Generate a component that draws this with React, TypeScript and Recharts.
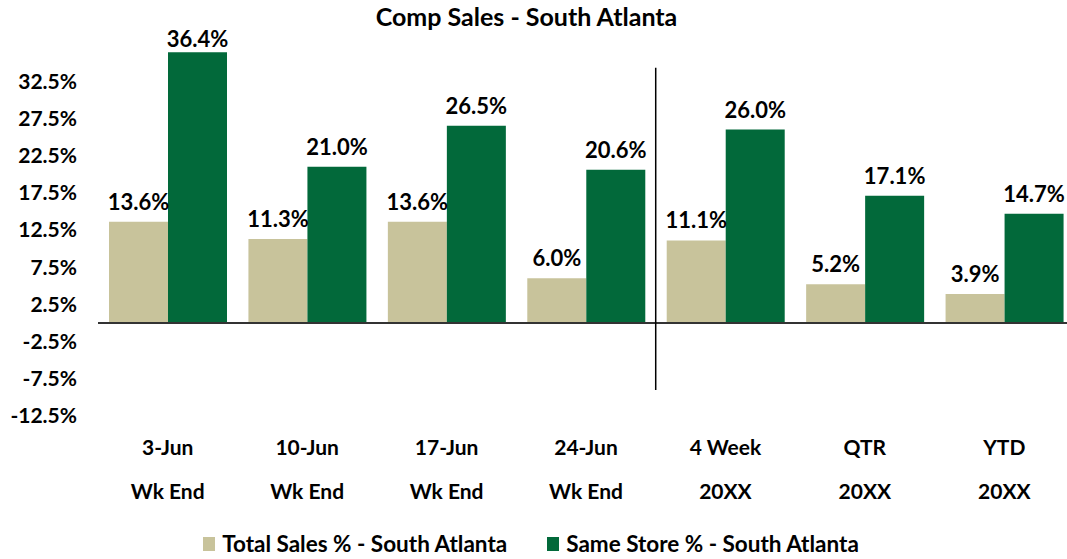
import { BarChart, Bar, XAxis, YAxis, ReferenceLine, LabelList } from "recharts";

const categories = ["3-Jun", "10-Jun", "17-Jun", "24-Jun", "4 Week", "QTR", "YTD"];
const subLabels = ["Wk End", "Wk End", "Wk End", "Wk End", "20XX", "20XX", "20XX"];
const totalSales = [13.6, 11.3, 13.6, 6.0, 11.1, 5.2, 3.9];
const sameStore = [36.4, 21.0, 26.5, 20.6, 26.0, 17.1, 14.7];
const yTicks = [-12.5, -7.5, -2.5, 2.5, 7.5, 12.5, 17.5, 22.5, 27.5, 32.5];

const TAN = "#C8C39B";
const GREEN = "#02693A";
const FONT = "Lato, 'Noto Sans', sans-serif";

const data = categories.map((name, i) => ({
  name,
  sub: subLabels[i],
  total: totalSales[i],
  same: sameStore[i],
}));

function CategoryTick({ x, y, payload, index }: any) {
  return (
    <g>
      <text x={x} y={y + 30} textAnchor="middle" dominantBaseline="central" fontFamily={FONT} fontWeight={700} fontSize={21} fill="#000">
        {payload.value}
      </text>
      <text x={x} y={y + 74} textAnchor="middle" dominantBaseline="central" fontFamily={FONT} fontWeight={700} fontSize={21} fill="#000">
        {subLabels[index]}
      </text>
    </g>
  );
}

function ValueLabel({ x, y, width, value }: any) {
  // keep labels inside the chart area (Excel pushes the tallest one down)
  const ty = Math.max(y - 12, 47);
  return (
    <text x={x + width / 2} y={ty} textAnchor="middle" fontFamily={FONT} fontWeight={700} fontSize={22} fill="#000">
      {Number(value).toFixed(1)}%
    </text>
  );
}

const legendItems = [
  { label: "Total Sales % - South Atlanta", color: TAN },
  { label: "Same Store % - South Atlanta", color: GREEN },
];

export default function App() {
  return (
    <div style={{ position: "absolute", left: 0, top: 0, width: 1067, height: 559, overflow: "hidden", background: "#fff", fontFamily: FONT }}>
      <div style={{ position: "absolute", top: 1, left: 0, width: 1053, textAlign: "center", fontSize: 25, fontWeight: 700, color: "#000", lineHeight: "30px" }}>
        Comp Sales - South Atlanta
      </div>

      <BarChart
        width={1080}
        height={520}
        data={data}
        margin={{ top: 44, right: 6, bottom: 0, left: 0 }}
        barCategoryGap={11}
        barGap={0}
      >
        <XAxis
          dataKey="name"
          height={104}
          axisLine={false}
          tickLine={false}
          tickSize={0}
          tickMargin={0}
          interval={0}
          tick={<CategoryTick />}
        />
        <YAxis
          width={98}
          domain={[-12.5, 37.5]}
          ticks={yTicks}
          axisLine={false}
          tickLine={false}
          tickSize={0}
          tickMargin={21}
          tickFormatter={(v: number) => `${v.toFixed(1)}%`}
          tick={{ fontFamily: FONT, fontWeight: 700, fontSize: 21, fill: "#000" }}
        />
        <Bar dataKey="total" fill={TAN} isAnimationActive={false}>
          <LabelList dataKey="total" content={<ValueLabel />} />
        </Bar>
        <Bar dataKey="same" fill={GREEN} isAnimationActive={false}>
          <LabelList dataKey="same" content={<ValueLabel />} />
        </Bar>
        <ReferenceLine y={0} stroke="#333" strokeWidth={2} />
        {/* divider between weekly and period columns, at the start of the "4 Week" band */}
        <ReferenceLine
          position="start"
          segment={[{ x: categories[4], y: -9 }, { x: categories[4], y: 34.3 }]}
          stroke="#000"
          strokeWidth={1.5}
        />
      </BarChart>

      <div style={{ position: "absolute", top: 530, left: 0, width: 1062, display: "flex", justifyContent: "center", gap: 40, fontSize: 22.5, fontWeight: 700, color: "#000" }}>
        {legendItems.map((item) => (
          <div key={item.label} style={{ display: "flex", alignItems: "center", gap: 7 }}>
            <span style={{ display: "inline-block", width: 12, height: 14, background: item.color }} />
            <span>{item.label}</span>
          </div>
        ))}
      </div>
    </div>
  );
}
